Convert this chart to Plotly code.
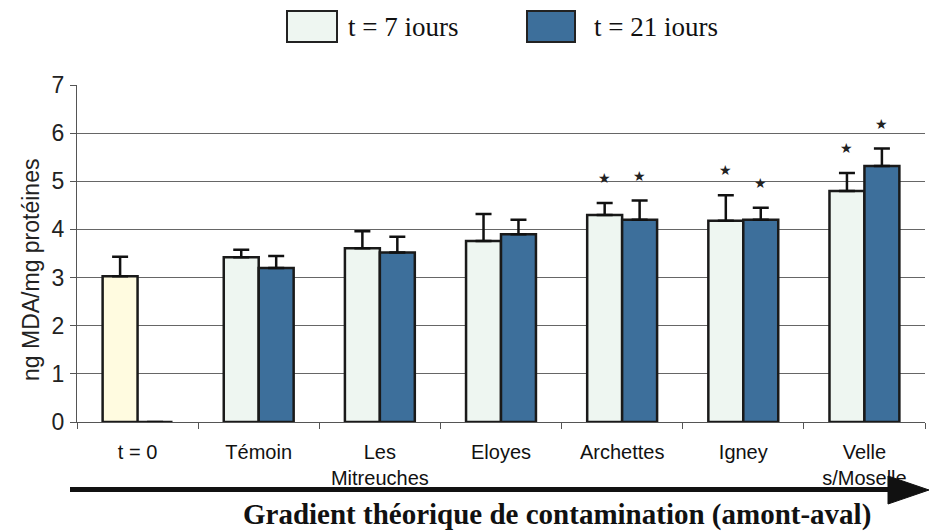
import plotly.graph_objects as go

# Sites along the river, upstream to downstream
categories = ["t = 0", "Témoin", "Les<br>Mitreuches", "Eloyes", "Archettes", "Igney", "Velle<br>s/Moselle"]

# MDA content (ng MDA / mg protein), mean and upper error after 7 days
mean_7 = [3.03, 3.42, 3.61, 3.76, 4.30, 4.18, 4.80]
err_7 = [0.40, 0.16, 0.35, 0.56, 0.25, 0.53, 0.37]

# MDA content after 21 days (no 21-day value at t = 0)
mean_21 = [0.0, 3.20, 3.52, 3.90, 4.20, 4.20, 5.32]
err_21 = [0.0, 0.25, 0.33, 0.30, 0.40, 0.25, 0.36]

# significant differences vs. control
sig_7 = [False, False, False, False, True, True, True]
sig_21 = [False, False, False, False, True, True, True]

y_ticks = [0, 1, 2, 3, 4, 5, 6, 7]

LIGHT = "#EEF6F1"
DARK = "#3D6F9B"
T0 = "#FFFBE0"
EDGE = "#1A1A1A"

W, H = 936, 531
ML, MR, MT, MB = 77, 11, 85, 109
PW, PH = W - ML - MR, H - MT - MB


def px(x):
    return (x - ML) / PW


def py(y):
    return (H - MB - y) / PH


fig = go.Figure()

colors_7 = [T0] + [LIGHT] * (len(categories) - 1)
fig.add_trace(go.Bar(
    x=categories, y=mean_7, name="t = 7 iours",
    marker=dict(color=colors_7, line=dict(color=EDGE, width=2.5)),
    error_y=dict(type="data", symmetric=False, array=err_7,
                 arrayminus=[0] * len(err_7), color="#111111",
                 thickness=2.5, width=8),
    showlegend=False,
))
fig.add_trace(go.Bar(
    x=categories, y=mean_21, name="t = 21 iours",
    marker=dict(color=DARK, line=dict(color=EDGE, width=2.5)),
    error_y=dict(type="data", symmetric=False, array=err_21,
                 arrayminus=[0] * len(err_21), color="#111111",
                 thickness=2.5, width=8),
    showlegend=False,
))

annotations = []
star_font = dict(size=14, color="#222222", family="DejaVu Sans")
# significance stars above the error bars
for cat, m, e, s in zip(categories, mean_7, err_7, sig_7):
    if s:
        annotations.append(dict(x=cat, y=m + e, xref="x", yref="y", text="★",
                                showarrow=False, xshift=-17.5, yshift=25,
                                font=star_font))
for cat, m, e, s in zip(categories, mean_21, err_21, sig_21):
    if s:
        annotations.append(dict(x=cat, y=m + e, xref="x", yref="y", text="★",
                                showarrow=False, xshift=17.5, yshift=25,
                                font=star_font))

serif = "Liberation Serif, Times New Roman, serif"
sans = "Liberation Sans, Arial, sans-serif"

# legend entries
annotations += [
    dict(x=px(346), y=py(27), xref="paper", yref="paper", text="t = 7 iours",
         xanchor="left", yanchor="middle", showarrow=False,
         font=dict(family=serif, size=27, color="#111111")),
    dict(x=px(592), y=py(27), xref="paper", yref="paper", text="t = 21 iours",
         xanchor="left", yanchor="middle", showarrow=False,
         font=dict(family=serif, size=27, color="#111111")),
    # y-axis title
    dict(x=px(31), y=py(270), xref="paper", yref="paper",
         text="ng MDA/mg protéines", textangle=-90, showarrow=False,
         xanchor="center", yanchor="middle",
         font=dict(family=sans, size=23, color="#222222")),
    # gradient caption
    dict(x=px(557), y=py(514), xref="paper", yref="paper",
         text="<b>Gradient théorique de contamination (amont-aval)</b>",
         showarrow=False, xanchor="center", yanchor="middle",
         font=dict(family=serif, size=29, color="#111111")),
]

shapes = [
    # legend swatches
    dict(type="rect", xref="paper", yref="paper", x0=px(287), x1=px(337),
         y0=py(42), y1=py(11), fillcolor=LIGHT, line=dict(color="#222222", width=2)),
    dict(type="rect", xref="paper", yref="paper", x0=px(527), x1=px(575),
         y0=py(42), y1=py(11), fillcolor=DARK, line=dict(color="#222222", width=2)),
    # upstream-downstream gradient arrow
    dict(type="line", xref="paper", yref="paper", x0=px(70), x1=px(892),
         y0=py(489.5), y1=py(489.5), line=dict(color="#111111", width=5)),
    dict(type="path", xref="paper", yref="paper",
         path=f"M {px(888)} {py(476)} L {px(929)} {py(490)} L {px(888)} {py(504)} Z",
         fillcolor="#111111", line=dict(color="#111111", width=1)),
]

fig.update_layout(
    width=W, height=H,
    margin=dict(l=ML, r=MR, t=MT, b=MB, pad=0),
    paper_bgcolor="white", plot_bgcolor="white",
    barmode="group", bargap=0.423, bargroupgap=0,
    annotations=annotations, shapes=shapes,
    showlegend=False,
)
fig.update_xaxes(
    type="category", tickson="boundaries", ticks="outside", ticklen=6,
    tickcolor="#555555", showline=True, linecolor="#555555", linewidth=1,
    showgrid=False, tickangle=0, ticklabelstandoff=12,
    tickfont=dict(family=sans, size=20, color="#111111"),
)
fig.update_yaxes(
    range=[0, 7], tickvals=y_ticks, ticks="outside", ticklen=6,
    tickcolor="#555555", showline=True, linecolor="#555555", linewidth=1,
    showgrid=True, gridcolor="#666666", gridwidth=1, zeroline=False,
    ticklabelstandoff=1,
    tickfont=dict(family=sans, size=23, color="#222222"),
)

fig.write_html("out.html")
